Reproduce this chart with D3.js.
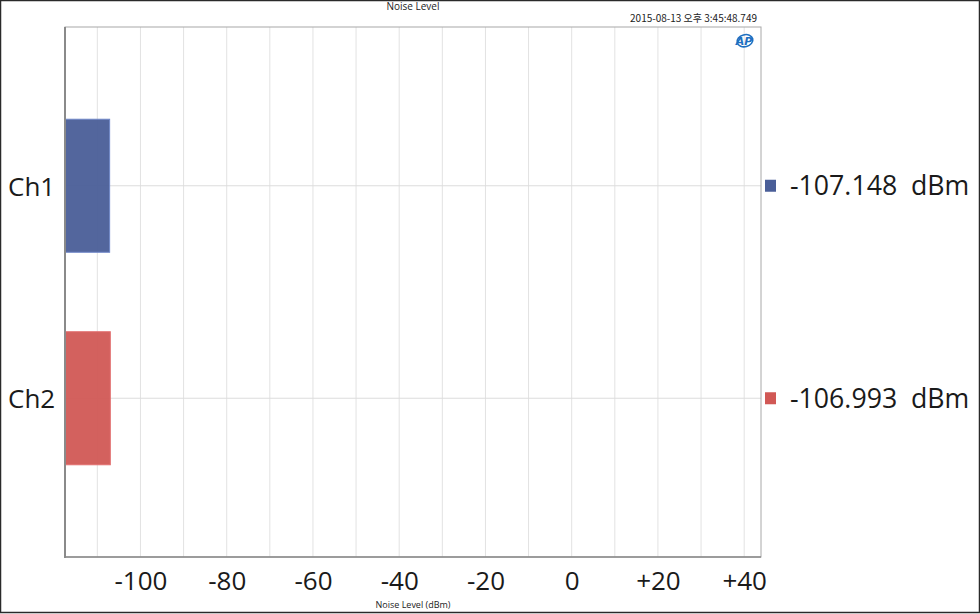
<!DOCTYPE html>
<html><head><meta charset="utf-8">
<script src="https://cdn.jsdelivr.net/npm/d3@7"></script>
<style>
html,body{margin:0;padding:0;background:#fff;}
svg{display:block;}
</style></head>
<body>
<svg id="chart" width="980" height="614"></svg>
<script>
const categories = ["Ch1", "Ch2"];
const values = [-107.148, -106.993];
const barColors = ["#4a5e98", "#d15855"];
const barStrokes = ["#6f87c8", "#e26f6f"];
const tickValues = [-100, -80, -60, -40, -20, 0, 20, 40];
const tickLabels = ["-100", "-80", "-60", "-40", "-20", "0", "+20", "+40"];
const gridValues = [-110, -100, -90, -80, -70, -60, -50, -40, -30, -20, -10, 0, 10, 20, 30, 40];
const xDomain = [-117.5, 43.9];
const title = "Noise Level";
const timestamp = "2015-08-13 오후 3:45:48.749";
const xLabel = "Noise Level (dBm)";

const svg = d3.select("#chart");
const W = 980, H = 614;
const L = 65, R = 761, T = 27, B = 557;
const font = "'Open Sans', 'Noto Sans', sans-serif";

// outer frame
svg.append("rect").attr("x", 0.5).attr("y", 0.5).attr("width", W - 1).attr("height", H - 2)
  .attr("fill", "#fff").attr("stroke", "#2a2a2a").attr("stroke-width", 1.5);

const x = d3.scaleLinear().domain(xDomain).range([L, R]);
const y = d3.scalePoint().domain(categories).range([T, B]).padding(0.747);
const barH = y.step() * 0.626;

// vertical grid
svg.append("g").selectAll("line").data(gridValues).join("line")
  .attr("x1", d => x(d)).attr("x2", d => x(d)).attr("y1", T).attr("y2", B)
  .attr("stroke", "#e2e2e2").attr("stroke-width", 1);
// horizontal grid
svg.append("g").selectAll("line").data(categories).join("line")
  .attr("x1", L).attr("x2", R).attr("y1", d => y(d)).attr("y2", d => y(d))
  .attr("stroke", "#dcdcdc").attr("stroke-width", 1.2);

// bars
svg.append("g").selectAll("rect").data(categories).join("rect")
  .attr("x", x(xDomain[0]))
  .attr("y", d => y(d) - barH / 2)
  .attr("width", (d, i) => x(values[i]) - x(xDomain[0]))
  .attr("height", barH)
  .attr("fill", (d, i) => barColors[i])
  .attr("fill-opacity", 0.95)
  .attr("stroke", (d, i) => barStrokes[i]).attr("stroke-width", 1);

// plot frame
svg.append("rect").attr("x", L).attr("y", T).attr("width", R - L).attr("height", B - T)
  .attr("fill", "none").attr("stroke", "#a8a8a8").attr("stroke-width", 1);
svg.append("line").attr("x1", L).attr("x2", L).attr("y1", T).attr("y2", B + 1)
  .attr("stroke", "#8a8a8a").attr("stroke-width", 2);
svg.append("line").attr("x1", L).attr("x2", R).attr("y1", B).attr("y2", B)
  .attr("stroke", "#8a8a8a").attr("stroke-width", 1.5);

// x axis via d3 axis
const xAxis = d3.axisBottom(x).tickValues(tickValues).tickSize(0).tickPadding(0)
  .tickFormat((d, i) => tickLabels[i]);
const gx = svg.append("g").attr("transform", `translate(0,${B})`).call(xAxis);
gx.select(".domain").remove();
gx.selectAll("text").attr("font-family", font).attr("font-size", 26)
  .attr("fill", "#1a1a1a").attr("dy", null).attr("y", 33);

// y axis labels
const yAxis = d3.axisLeft(y).tickSize(0).tickPadding(0);
const gy = svg.append("g").attr("transform", `translate(${L},0)`).call(yAxis);
gy.select(".domain").remove();
gy.selectAll("text").attr("font-family", font).attr("font-size", 26)
  .attr("fill", "#1a1a1a").attr("text-anchor", "start").attr("x", 8 - L).attr("dy", "0.36em");

// right value labels
const rg = svg.append("g").selectAll("g").data(categories).join("g")
  .attr("transform", d => `translate(0,${y(d)})`);
rg.append("rect").attr("x", 765).attr("y", -6).attr("width", 11).attr("height", 12)
  .attr("fill", (d, i) => barColors[i]);
rg.append("text").attr("x", 790).attr("y", 0).attr("dy", "0.36em")
  .attr("font-family", font).attr("font-size", 26.7).attr("fill", "#1a1a1a")
  .attr("xml:space", "preserve").style("white-space", "pre")
  .text((d, i) => values[i].toFixed(3) + "  dBm");

// title, timestamp, axis label
svg.append("text").attr("x", (L + R) / 2).attr("y", 9.5).attr("text-anchor", "middle")
  .attr("font-family", font).attr("font-size", 10).attr("fill", "#222").text(title);
svg.append("text").attr("x", 757).attr("y", 22).attr("text-anchor", "end")
  .attr("font-family", "'Noto Sans CJK KR', 'Open Sans', sans-serif").attr("font-size", 10)
  .attr("fill", "#222").text(timestamp);
svg.append("text").attr("x", (L + R) / 2).attr("y", 608).attr("text-anchor", "middle")
  .attr("font-family", font).attr("font-size", 9).attr("fill", "#222").text(xLabel);

// AP logo
const logo = svg.append("g").attr("transform", "translate(744,41)");
logo.append("ellipse").attr("cx", 1).attr("cy", 0).attr("rx", 8).attr("ry", 6)
  .attr("fill", "none").attr("stroke", "#1e6fc0").attr("stroke-width", 1.6)
  .attr("transform", "rotate(-15)");
logo.append("text").attr("x", 0).attr("y", 4).attr("text-anchor", "middle")
  .attr("font-family", "'DejaVu Sans', sans-serif").attr("font-size", 11).attr("font-weight", "bold")
  .attr("font-style", "italic").attr("fill", "#1e6fc0").text("AP");
</script>
</body></html>
